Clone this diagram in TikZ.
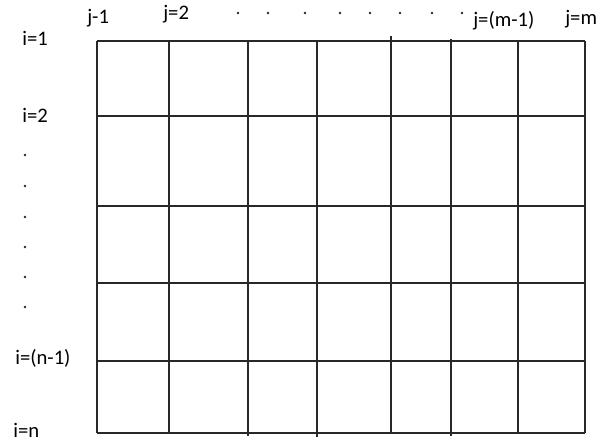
\documentclass[tikz,border=0pt]{standalone}
\usepackage{fontspec}
\setmainfont{Carlito}
\usepackage{xcolor}
\usetikzlibrary{positioning}
\definecolor{gridgray}{RGB}{40, 40, 40}
\tikzset{
    lbl/.style={anchor=base west, inner sep=0pt, font=\fontsize{14.7}{17}\selectfont},
    gridline/.style={line width=1.1pt, gridgray}
}
\newcommand{\smalldot}[2]{
\fill[gridgray] (#1,#2) circle (1.3);
}

\begin{document}
\begin{tikzpicture}[x=0.025cm, y=-0.025cm]
    \useasboundingbox (0,0) rectangle (597,444);
    % grid
    \foreach \x/\ya/\yb in {97/41/433, 169/41/433, 248/41/436, 317/41/437, 391/36/433, 451/39/436, 518/41/433, 585/41/433}
    {
        \draw[gridline] (\x,\ya) -- (\x,\yb);
    }
    \foreach \y in {41,116,206,283,361,433}
    {
        \draw[gridline] (97,\y) -- (585,\y);
    }
    % column labels
    \node[lbl] (j1) at (87,24) {j-1};
    \node[lbl] (j2) at (163,20) {j=2};
    \node[lbl] (jm1) at (473,27) {j=(m-1)};
    \node[lbl] (jm) at (565,25) {j=m};
    \foreach \x in {238,268,305,340,370,400,432,462}
    {
        \smalldot{\x}{13}
    }
    % row labels
    \node[lbl] (i1) at (22,46) {i=1};
    \node[lbl] (i2) at (22,123) {i=2};
    \node[lbl] (in1) at (15,365) {i=(n-1)};
    \node[lbl] (in) at (13,437) {i=n};
    \foreach \y in {155,186,217,247,277,307}
    {
        \smalldot{25}{\y}
    }
\end{tikzpicture}
\end{document}
